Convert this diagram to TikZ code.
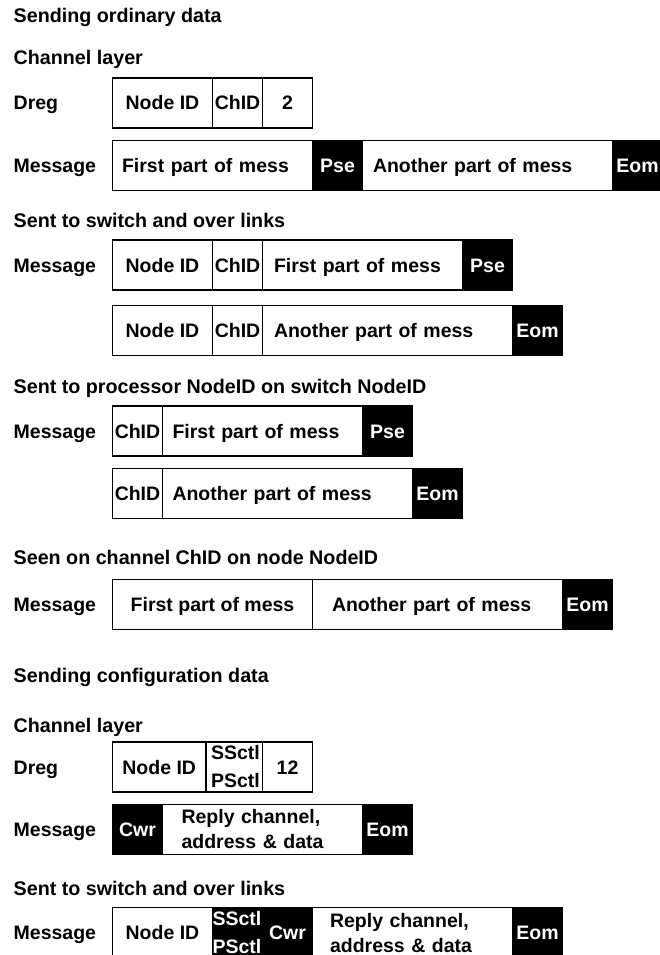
\documentclass[tikz,border=0pt]{standalone}
\usepackage{fontspec}
\setmainfont{Liberation Sans}
\begin{document}
\begin{tikzpicture}[x=1pt,y=-1pt,
  ttl/.style={font=\fontsize{19.7}{24}\selectfont\bfseries, inner sep=0pt, anchor=base west},
  lab/.style={font=\fontsize{19.5}{24}\selectfont\bfseries, inner sep=0pt, anchor=base west},
  cbase/.style={draw, line width=1.2pt, inner sep=0pt, minimum height=50pt},
  cell/.style={cbase, text height=14pt, text depth=0pt, font=\fontsize{19.5}{24}\selectfont\bfseries},
  blk/.style={cell, fill=black, text=white},
  lcell/.style={cell, align=left},
  cellA/.style={cbase, align=left, font=\fontsize{19.5}{28}\selectfont\bfseries},
  cellB/.style={cbase, align=left, font=\fontsize{19.5}{25}\selectfont\bfseries},
]
\clip (0,0) rectangle (660,955);
\fill[white] (0,0) rectangle (660,955);

% ---------------- titles ----------------
\node[ttl] (t1) at (13.5,22.7) {Sending ordinary data};
\node[ttl] (t2) at (13.5,65) {Channel layer};
\node[ttl] (t3) at (13.5,227) {Sent to switch and over links};
\node[ttl] (t4) at (13.5,393) {Sent to processor NodeID on switch NodeID};
\node[ttl] (t5) at (13.5,564) {Seen on channel ChID on node NodeID};
\node[ttl] (t6) at (13.5,682) {Sending configuration data};
\node[ttl] (t7) at (13.5,732) {Channel layer};
\node[ttl] (t8) at (13.5,895) {Sent to switch and over links};

% ---------------- row labels ----------------
\node[lab] (l1) at (13.5,110) {Dreg};
\node[lab] (l2) at (13.5,172.5) {Message};
\node[lab] (l3) at (13.5,272) {Message};
\node[lab] (l5) at (13.5,438) {Message};
\node[lab] (l7) at (13.5,611.5) {Message};
\node[lab] (l8) at (13.5,774) {Dreg};
\node[lab] (l9) at (13.5,836.5) {Message};
\node[lab] (l10) at (13.5,939.7) {Message};

% ---------------- R1 Dreg ----------------
\node[cell, minimum width=100pt] (r1a) at (162.5,103) {Node ID};
\node[cell, minimum width=50pt] (r1b) at (237.5,103) {ChID};
\node[cell, minimum width=50pt] (r1c) at (287.5,103) {2};

% ---------------- R2 Message ----------------
\node[lcell, minimum width=200pt, text width=181pt, inner xsep=9.5pt] (r2a) at (212.5,165.5) {First part of mess};
\node[blk, minimum width=50pt] (r2b) at (337.5,165.5) {Pse};
\node[lcell, minimum width=250pt, text width=229pt, inner xsep=10.5pt] (r2c) at (487.5,165.5) {Another part of mess};
\node[blk, minimum width=50pt] (r2d) at (637.5,165.5) {Eom};

% ---------------- R3 ----------------
\node[cell, minimum width=100pt] (r3a) at (162.5,265) {Node ID};
\node[cell, minimum width=50pt] (r3b) at (237.5,265) {ChID};
\node[lcell, minimum width=200pt, text width=177pt, inner xsep=11.5pt] (r3c) at (362.5,265) {First part of mess};
\node[blk, minimum width=50pt] (r3d) at (487.5,265) {Pse};

% ---------------- R4 ----------------
\node[cell, minimum width=100pt] (r4a) at (162.5,330.5) {Node ID};
\node[cell, minimum width=50pt] (r4b) at (237.5,330.5) {ChID};
\node[lcell, minimum width=250pt, text width=227pt, inner xsep=11.5pt] (r4c) at (387.5,330.5) {Another part of mess};
\node[blk, minimum width=50pt] (r4d) at (537.5,330.5) {Eom};

% ---------------- R5 ----------------
\node[cell, minimum width=50pt] (r5a) at (137.5,431) {ChID};
\node[lcell, minimum width=200pt, text width=180pt, inner xsep=10pt] (r5b) at (262.5,431) {First part of mess};
\node[blk, minimum width=50pt] (r5c) at (387.5,431) {Pse};

% ---------------- R6 ----------------
\node[cell, minimum width=50pt] (r6a) at (137.5,493.5) {ChID};
\node[lcell, minimum width=250pt, text width=230pt, inner xsep=10pt] (r6b) at (287.5,493.5) {Another part of mess};
\node[blk, minimum width=50pt] (r6c) at (437.5,493.5) {Eom};

% ---------------- R7 ----------------
\node[cell, minimum width=200pt] (r7a) at (212.5,604.5) {First part of mess};
\node[lcell, minimum width=250pt, text width=211pt, inner xsep=19.5pt] (r7b) at (437.5,604.5) {Another part of mess};
\node[blk, minimum width=50pt] (r7c) at (587.5,604.5) {Eom};

% ---------------- R8 Dreg (config) ----------------
\node[cell, minimum width=93.5pt] (r8a) at (159.25,767) {Node ID};
\node[cellA, minimum width=56.5pt, text width=46.5pt, inner xsep=5pt] (r8b) at (234.25,767) {SSctl\\PSctl};
\node[cell, minimum width=50pt] (r8c) at (287.5,767) {12};

% ---------------- R9 Message (config) ----------------
\node[blk, minimum width=50pt] (r9a) at (137.5,829.5) {Cwr};
\node[cellB, minimum width=200pt, text width=162pt, inner xsep=19pt] (r9b) at (262.5,829.5) {Reply channel,\\address \& data};
\node[blk, minimum width=50pt] (r9c) at (387.5,829.5) {Eom};

% ---------------- R10 Message (config, switch) ----------------
\node[cell, minimum width=100pt] (r10a) at (162.5,932.7) {Node ID};
\node[cellA, fill=black, text=white, minimum width=50pt, text width=50pt, inner xsep=0pt] (r10b) at (237.5,932.7) {SSctl\\PSctl};
\node[blk, minimum width=50pt] (r10c) at (287.5,932.7) {Cwr};
\node[cellB, minimum width=200pt, text width=165pt, inner xsep=17.5pt] (r10d) at (412.5,932.7) {Reply channel,\\address \& data};
\node[blk, minimum width=50pt] (r10e) at (537.5,932.7) {Eom};
\end{tikzpicture}
\end{document}
